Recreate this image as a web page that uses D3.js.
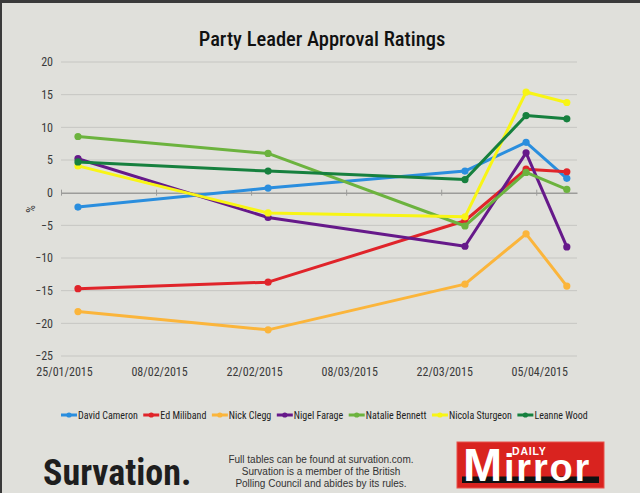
<!DOCTYPE html>
<html><head><meta charset="utf-8">
<script src="https://cdn.jsdelivr.net/npm/d3@7"></script>
<style>
html,body{margin:0;padding:0;background:#e0e0db;}
svg{display:block;}
</style></head>
<body>
<svg id="chart" width="640" height="493"></svg>
<script>
// ---- data ----
const dates = ["2015-01-27T12:00Z", "2015-02-24T12:00Z", "2015-03-25T12:00Z", "2015-04-03T12:00Z", "2015-04-09T12:00Z"];
const seriesNames = ["David Cameron", "Ed Miliband", "Nick Clegg", "Nigel Farage", "Natalie Bennett", "Nicola Sturgeon", "Leanne Wood"];
const davidCameron   = [-2.2,   0.7,   3.3,  7.7,   2.2];
const edMiliband     = [-14.7, -13.7, -4.3,  3.6,   3.2];
const nickClegg      = [-18.2, -21.0, -14.0, -6.3, -14.3];
const nigelFarage    = [5.2,   -3.8,  -8.2,  6.1,  -8.3];
const natalieBennett = [8.6,    6.0,  -5.1,  3.1,   0.5];
const nicolaSturgeon = [4.1,   -3.1,  -3.7, 15.4,  13.8];
const leanneWood     = [4.7,    3.3,   2.0, 11.8,  11.3];
const seriesColors = ["#2a8ede", "#e0242a", "#fbb53b", "#66198a", "#6cb33e", "#f8f515", "#16803e"];
const yTicks = [-25, -20, -15, -10, -5, 0, 5, 10, 15, 20];
const xTickDates = ["2015-01-25", "2015-02-08", "2015-02-22", "2015-03-08", "2015-03-22", "2015-04-05"];
const xDomain = ["2015-01-25", "2015-04-11"];
const titleText = "Party Leader Approval Ratings";
const noteLines = ["Full tables can be found at survation.com.", "Survation is a member of the British", "Polling Council and abides by its rules."];

const seriesValues = [davidCameron, edMiliband, nickClegg, nigelFarage, natalieBennett, nicolaSturgeon, leanneWood];
const COND = "'Liberation Sans Narrow','Arial Narrow','Roboto Condensed','DejaVu Sans Condensed',sans-serif";
const SANS = "'Liberation Sans',Arial,sans-serif";

const svg = d3.select("#chart");
svg.append("rect").attr("width", 640).attr("height", 493).attr("fill", "#e0e0db");
svg.append("rect").attr("x", 0).attr("y", 0).attr("width", 640).attr("height", 3).attr("fill", "#3a3a3a");
svg.append("rect").attr("x", 0).attr("y", 0).attr("width", 2).attr("height", 493).attr("fill", "#3a3a3a");

const x = d3.scaleUtc().domain(xDomain.map(d => new Date(d))).range([61, 577]);
const y = d3.scaleLinear().domain([-25, 20]).range([356, 62]);

// title
svg.append("text").attr("x", 322).attr("y", 45.5).attr("text-anchor", "middle")
  .attr("font-family", COND).attr("font-size", 20.5).attr("fill", "#111").attr("font-weight", 500)
  .text(titleText);

// gridlines
svg.append("g").selectAll("line").data(yTicks.filter(t => t !== 0)).join("line")
  .attr("x1", 61).attr("x2", 577).attr("y1", d => y(d)).attr("y2", d => y(d))
  .attr("stroke", "#c6c6c2").attr("stroke-width", 1);

// y axis labels
const yAxis = d3.axisLeft(y).tickValues(yTicks).tickSize(0).tickPadding(8);
const gy = svg.append("g").attr("transform", "translate(61,0)").call(yAxis);
gy.select(".domain").remove();
gy.selectAll("text").attr("font-family", COND).attr("font-size", 12).attr("fill", "#3a3a3a");

// zero line with ticks
const zeroY = y(0);
const gz = svg.append("g").attr("transform", `translate(0,${zeroY})`)
  .call(d3.axisBottom(x).tickValues(xTickDates.map(d => new Date(d))).tickSizeInner(3).tickSizeOuter(0).tickFormat(""));
gz.select(".domain").attr("stroke", "#9c9c9a").attr("stroke-width", 1.5);
gz.selectAll(".tick line").attr("stroke", "#9c9c9a").attr("y1", -3).attr("stroke-width", 1);

// x labels
const fmt = d3.utcFormat("%d/%m/%Y");
const gx = svg.append("g").attr("transform", `translate(0,${y(-25)})`)
  .call(d3.axisBottom(x).tickValues(xTickDates.map(d => new Date(d))).tickSize(0).tickPadding(11).tickFormat(fmt));
gx.select(".domain").remove();
gx.selectAll("text").attr("font-family", COND).attr("font-size", 12).attr("fill", "#3a3a3a").attr("dx", 3);

// % label
svg.append("text").attr("transform", "translate(35,209) rotate(-90)").attr("text-anchor", "middle")
  .attr("font-family", COND).attr("font-size", 12).attr("fill", "#3a3a3a").text("%");

// lines
const line = d3.line().x((d, i) => x(new Date(dates[i]))).y(d => y(d));
const gs = svg.append("g");
seriesValues.forEach((vals, si) => {
  const g = gs.append("g");
  g.append("path").attr("d", line(vals)).attr("fill", "none").attr("stroke", seriesColors[si])
    .attr("stroke-width", 3).attr("stroke-linejoin", "round").attr("stroke-linecap", "round");
  g.selectAll("circle").data(vals).join("circle")
    .attr("cx", (d, i) => x(new Date(dates[i]))).attr("cy", d => y(d)).attr("r", 3.6)
    .attr("fill", seriesColors[si]);
});

// legend
const lg = svg.append("g").attr("transform", "translate(0,415)");
let lx = 61;
seriesNames.forEach((name, i) => {
  lg.append("line").attr("x1", lx).attr("x2", lx + 16).attr("y1", 0).attr("y2", 0)
    .attr("stroke", seriesColors[i]).attr("stroke-width", 3);
  lg.append("circle").attr("cx", lx + 8).attr("cy", 0).attr("r", 2.6).attr("fill", seriesColors[i]);
  const t = lg.append("text").attr("x", lx + 17).attr("y", 3.6)
    .attr("font-family", COND).attr("font-size", 10).attr("fill", "#222").text(name);
  lx += 17 + t.node().getComputedTextLength() + 5.5;
});

// Survation logo
svg.append("text").attr("x", 43).attr("y", 485).attr("font-family", COND).attr("font-weight", "bold")
  .attr("font-size", 36).attr("fill", "#1e1e1e").text("Survation.");

// note
svg.append("g").selectAll("text").data(noteLines).join("text")
  .attr("x", 321).attr("y", (d, i) => 463 + i * 11.8).attr("text-anchor", "middle")
  .attr("font-family", SANS).attr("font-size", 10).attr("fill", "#333").text(d => d);

// Mirror logo
const m = svg.append("g");
m.append("rect").attr("x", 457).attr("y", 442).attr("width", 147).attr("height", 46)
  .attr("fill", "#d9231f").attr("stroke", "#e8534c").attr("stroke-width", 1);
m.append("rect").attr("x", 462).attr("y", 476.5).attr("width", 137).attr("height", 6.5).attr("fill", "#111");
const mt = m.append("text").attr("font-family", SANS).attr("font-weight", 900).attr("fill", "#fff");
mt.append("tspan").attr("x", 463).attr("y", 481).attr("font-size", 47).text("M");
mt.append("tspan").attr("x", 512).attr("y", 454.5).attr("font-size", 10.5).attr("letter-spacing", 0.8).text("DAILY");
mt.append("tspan").attr("x", 504).attr("y", 481).attr("font-size", 38).attr("letter-spacing", 1.8).text("irror");
</script>
</body></html>
